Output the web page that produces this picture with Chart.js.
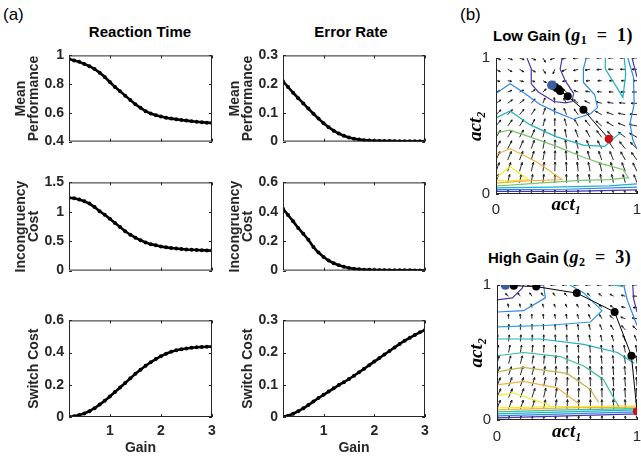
<!DOCTYPE html>
<html>
<head>
<meta charset="utf-8">
<script src="https://cdn.jsdelivr.net/npm/chart.js@4.4.0/dist/chart.umd.min.js"></script>
<style>
  body { margin: 0; width: 641px; height: 461px; overflow: hidden; background: #fff; position: relative;
         font-family: 'Liberation Sans', Arial, sans-serif; }
  canvas { position: absolute; }
  .t { position: absolute; transform: translate(-50%, -50%); white-space: nowrap; color: #000; }
  .tl { position: absolute; transform: translateY(-50%); white-space: nowrap; color: #000; }
  .m { font-family: 'Liberation Serif', 'DejaVu Serif', serif; font-weight: bold; font-size: 18px; letter-spacing: 0.5px; }
  .m i { font-style: italic; }
  .m sub { font-size: 12px; vertical-align: -3px; }
</style>
</head>
<body>
<div class="tl" style="left:3px;top:15px;font-size:17px">(a)</div>
<div class="tl" style="left:460px;top:15px;font-size:17px">(b)</div>
<div class="t" style="left:140px;top:31px;font-size:15px;font-weight:bold">Reaction Time</div>
<div class="t" style="left:351px;top:31px;font-size:15px;font-weight:bold">Error Rate</div>
<div class="tl" style="left:493px;top:36px;font-size:15px;font-weight:bold">Low Gain <span class="m">(<i>g</i><sub>1</sub>&ensp;=&ensp;1)</span></div>
<div class="tl" style="left:488px;top:258px;font-size:15px;font-weight:bold">High Gain <span class="m">(<i>g</i><sub>2</sub>&ensp;=&ensp;3)</span></div>

<script>
// ---- panel (a) data ----
const gain = [0.2, 0.3, 0.4, 0.5, 0.6, 0.7, 0.8, 0.9, 1.0, 1.1, 1.2, 1.3, 1.4, 1.5, 1.6,
              1.7, 1.8, 1.9, 2.0, 2.1, 2.2, 2.3, 2.4, 2.5, 2.6, 2.7, 2.8, 2.9, 3.0];
const rtMean = [0.975, 0.965, 0.955, 0.94, 0.925, 0.905, 0.88, 0.85, 0.815, 0.78, 0.75, 0.72, 0.69, 0.66, 0.635,
                0.612, 0.595, 0.583, 0.574, 0.566, 0.56, 0.555, 0.55, 0.546, 0.542, 0.538, 0.535, 0.532, 0.53];
const erMean = [0.21, 0.19, 0.17, 0.151, 0.133, 0.115, 0.097, 0.08, 0.064, 0.05, 0.038, 0.028, 0.02, 0.014, 0.01,
                0.007, 0.005, 0.004, 0.003, 0.0025, 0.002, 0.0018, 0.0015, 0.0013, 0.0012, 0.001, 0.001, 0.0009, 0.0008];
const rtIncong = [1.24, 1.23, 1.21, 1.18, 1.14, 1.08, 1.01, 0.95, 0.88, 0.81, 0.74, 0.67, 0.61, 0.56, 0.515,
                  0.48, 0.45, 0.43, 0.41, 0.395, 0.385, 0.375, 0.367, 0.36, 0.355, 0.35, 0.346, 0.343, 0.34];
const erIncong = [0.42, 0.378, 0.335, 0.29, 0.25, 0.21, 0.16, 0.123, 0.092, 0.068, 0.05, 0.036, 0.026, 0.018, 0.012,
                  0.009, 0.006, 0.005, 0.004, 0.003, 0.003, 0.0025, 0.002, 0.002, 0.0018, 0.0016, 0.0015, 0.0014, 0.0013];
const rtSwitch = [0.002, 0.005, 0.012, 0.022, 0.036, 0.055, 0.077, 0.101, 0.127, 0.155, 0.183, 0.211, 0.24, 0.268, 0.294,
                  0.318, 0.34, 0.36, 0.378, 0.393, 0.405, 0.414, 0.421, 0.426, 0.43, 0.433, 0.435, 0.436, 0.437];
const erSwitch = [0.001, 0.004, 0.01, 0.018, 0.027, 0.037, 0.048, 0.059, 0.069, 0.079, 0.089, 0.099, 0.108, 0.118, 0.128,
                  0.139, 0.15, 0.161, 0.172, 0.183, 0.194, 0.205, 0.216, 0.227, 0.237, 0.246, 0.255, 0.263, 0.27];

const gainTicks = [1, 2, 3];
const rtMeanTicks = [0.4, 0.6, 0.8, 1];
const erMeanTicks = [0, 0.1, 0.2, 0.3];
const rtIncongTicks = [0, 0.5, 1, 1.5];
const erIncongTicks = [0, 0.2, 0.4, 0.6];
const rtSwitchTicks = [0, 0.2, 0.4, 0.6];
const erSwitchTicks = [0, 0.1, 0.2, 0.3];

// ---- panel (b) data ----
const actTicks = [0, 1];
const quiverGrid = [0, 0.083, 0.167, 0.25, 0.333, 0.417, 0.5, 0.583, 0.667, 0.75, 0.833, 0.917, 1];
// arrow directions in degrees, rows from act2 = 1 (top) down to act2 = 0
const lowAngles = [
  [340, 340, 340, 335, 300, 200, 190, 185, 180, 180, 180, 180, 180],
  [330, 330, 328, 325, 300, 250, 205, 195, 190, 185, 180, 180, 180],
  [350, 350, 348, 345, 330, 270, 190, 185, 182, 180, 180, 180, 180],
  [20, 22, 25, 30, 45, 90, 140, 160, 170, 175, 178, 180, 180],
  [35, 38, 40, 50, 70, 95, 120, 140, 155, 165, 170, 175, 180],
  [45, 48, 52, 58, 72, 92, 110, 125, 140, 150, 160, 168, 175],
  [52, 55, 58, 64, 75, 90, 105, 118, 128, 138, 148, 158, 168],
  [58, 60, 63, 68, 77, 89, 100, 110, 118, 126, 134, 142, 150],
  [62, 64, 67, 71, 79, 88, 97, 104, 110, 116, 122, 128, 135],
  [66, 68, 70, 74, 80, 88, 94, 99, 104, 108, 112, 118, 125],
  [70, 72, 74, 77, 82, 88, 92, 96, 100, 103, 106, 110, 115],
  [75, 77, 79, 81, 84, 88, 91, 94, 97, 99, 102, 105, 110],
  [80, 82, 84, 85, 87, 89, 91, 93, 95, 97, 99, 101, 105]
];
const lowLengths = [0.035, 0.035, 0.028, 0.032, 0.042, 0.05, 0.055, 0.06, 0.065, 0.068, 0.068, 0.062, 0.03];
const highAngles = [
  [180, 180, 180, 180, 180, 180, 180, 180, 180, 180, 180, 180, 180],
  [150, 140, 130, 125, 125, 125, 128, 130, 135, 140, 150, 165, 180],
  [100, 100, 100, 102, 105, 108, 112, 118, 125, 135, 150, 170, 180],
  [92, 92, 92, 94, 96, 98, 100, 105, 110, 120, 140, 160, 170],
  [88, 88, 89, 90, 92, 94, 96, 99, 103, 110, 120, 130, 135],
  [84, 84, 85, 87, 89, 91, 93, 96, 99, 102, 106, 110, 112],
  [80, 80, 81, 84, 87, 89, 91, 93, 95, 97, 99, 100, 100],
  [76, 76, 77, 80, 84, 87, 89, 91, 93, 95, 96, 97, 97],
  [72, 72, 74, 77, 81, 85, 88, 90, 92, 93, 94, 95, 95],
  [70, 70, 71, 74, 78, 83, 87, 89, 91, 92, 93, 94, 94],
  [68, 68, 70, 73, 77, 82, 86, 89, 90, 91, 92, 93, 93],
  [70, 70, 72, 75, 79, 83, 87, 89, 90, 91, 92, 92, 92],
  [80, 80, 81, 83, 85, 87, 89, 90, 90, 91, 91, 91, 91]
];
const highLengths = [0.035, 0.03, 0.028, 0.035, 0.042, 0.048, 0.055, 0.06, 0.065, 0.068, 0.07, 0.068, 0.03];

// contour lines [act1, act2]
const lowPurple = [[0.22, 1], [0.25, 0.92], [0.25, 0.81], [0.3, 0.75], [0.41, 0.68], [0.49, 0.67], [0.54, 0.68], [0.55, 0.74], [0.49, 0.835], [0.455, 0.92], [0.47, 1]];
const lowPurpleRight = [[0.965, 1], [0.985, 0.92], [1, 0.86]];
const lowBlue = [[0, 0.74], [0.1, 0.81], [0.19, 0.75], [0.31, 0.66], [0.43, 0.6], [0.55, 0.55], [0.67, 0.59], [0.72, 0.635], [0.7, 0.73], [0.62, 0.82], [0.62, 0.92], [0.64, 1]];
const lowBlueRight = [[0.935, 1], [0.975, 0.86], [0.98, 0.66], [0.95, 0.52], [0.97, 0.4], [1, 0.33]];
const lowCyan = [[0, 0.56], [0.1, 0.61], [0.24, 0.51], [0.43, 0.42], [0.62, 0.36], [0.77, 0.35], [0.87, 0.44], [0.89, 0.45]];
const lowCyanRight = [[0.775, 1], [0.775, 0.92], [0.9, 0.71], [0.92, 0.88], [0.91, 1]];
const lowGreen = [[0, 0.45], [0.1, 0.47], [0.24, 0.42], [0.43, 0.35], [0.62, 0.27], [0.76, 0.22], [0.9, 0.18], [0.94, 0.12], [0.8, 0.105], [0.6, 0.1], [0.3, 0.08], [0.1, 0.065], [0, 0.06]];
const lowOrange = [[0, 0.29], [0.1, 0.334], [0.29, 0.235], [0.467, 0.106], [0.19, 0.094], [0, 0.08]];
const lowYellow = [[0, 0.12], [0.1, 0.2], [0.23, 0.106], [0.064, 0.094], [0, 0.1]];
const lowBand1 = [[0, 0.045], [0.4, 0.05], [0.8, 0.06], [1, 0.075]];
const lowBand2 = [[0, 0.032], [0.5, 0.035], [1, 0.05]];
const lowBand3 = [[0, 0.02], [0.5, 0.02], [1, 0.03]];

const highPurple = [[0, 0.89], [0.11, 0.905], [0.18, 0.976], [0.19, 1]];
const highPurpleRight = [[0.97, 1], [0.975, 0.9], [1, 0.8]];
const highBlue = [[0, 0.8], [0.19, 0.81], [0.345, 0.905], [0.333, 1]];
const highBlueRight = [[0.905, 1], [0.93, 0.89], [1, 0.7]];
const highLightBlue = [[0, 0.69], [0.35, 0.7], [0.667, 0.726], [0.75, 0.81], [0.62, 0.94], [0.52, 1]];
const highCyan = [[0, 0.6], [0.31, 0.6], [0.62, 0.56], [0.86, 0.5], [0.98, 0.42]];
const highCyanTop = [[0.82, 1], [0.9, 0.99]];
const highTeal = [[0, 0.476], [0.19, 0.5], [0.45, 0.47], [0.62, 0.4], [0.76, 0.3], [0.845, 0.143], [0.87, 0.1]];
const highOlive = [[0, 0.357], [0.19, 0.39], [0.5, 0.345], [0.667, 0.226], [0.726, 0.13]];
const highOrange = [[0, 0.26], [0.19, 0.286], [0.43, 0.238], [0.583, 0.12]];
const highYellow = [[0, 0.18], [0.12, 0.2], [0.38, 0.107]];
const highBandY = [[0, 0.09], [0.5, 0.1], [1, 0.105]];
const highBandO = [[0, 0.075], [0.5, 0.09], [1, 0.095]];
const highBandT = [[0, 0.06], [0.5, 0.075], [1, 0.085]];
const highBandC = [[0, 0.045], [0.5, 0.06], [1, 0.075]];
const highBandB = [[0, 0.03], [0.5, 0.045], [1, 0.06]];
const highBandP = [[0, 0.015], [0.5, 0.03], [1, 0.045]];

// trajectories, from the red start to the blue end
const lowTraj = [[0.8, 0.405], [0.62, 0.62], [0.509, 0.718], [0.455, 0.758], [0.443, 0.772], [0.42, 0.786], [0.396, 0.8]];
const highTraj = [[1, 0.064], [0.96, 0.476], [0.84, 0.8], [0.57, 0.94], [0.28, 0.988], [0.12, 0.995], [0.06, 1]];

const C = {
  purple: '#4637ad', blue: '#2f86e6', lblue: '#2a9fe0', cyan: '#1fb1c6', teal: '#38bd98',
  green: '#7cc46c', olive: '#bdb94c', orange: '#f2b044', yellow: '#f2ec1e'
};

const TICK_FONT = { family: "'Liberation Sans', Arial, sans-serif", size: 14, weight: 'bold' };
const LABEL_FONT = { family: "'Liberation Sans', Arial, sans-serif", size: 14, weight: 'bold', lineHeight: 0.93 };
const ACT_FONT = { family: "'Liberation Serif', 'DejaVu Serif', serif", size: 19, weight: 'bold', style: 'italic' };

// axes box + inward tick marks (MATLAB look)
const boxPlugin = {
  id: 'box',
  afterDatasetsDraw(chart, args, opts) {
    const { ctx, chartArea: a, scales: { x, y } } = chart;
    const t = 3;
    ctx.save();
    ctx.strokeStyle = opts.color || '#262626';
    ctx.lineWidth = 1;
    ctx.beginPath();
    ctx.moveTo(a.left + 0.5, a.top);
    ctx.lineTo(a.left + 0.5, a.bottom - 0.5);
    ctx.lineTo(a.right, a.bottom - 0.5);
    if (opts.full) {
      ctx.moveTo(a.left, a.top + 0.5);
      ctx.lineTo(a.right - 0.5, a.top + 0.5);
      ctx.lineTo(a.right - 0.5, a.bottom);
    }
    opts.xt.forEach(v => {
      const px = Math.round(x.getPixelForValue(v)) + 0.5;
      ctx.moveTo(px, a.bottom); ctx.lineTo(px, a.bottom - t);
      if (opts.full) { ctx.moveTo(px, a.top); ctx.lineTo(px, a.top + t); }
    });
    opts.yt.forEach(v => {
      const py = Math.round(y.getPixelForValue(v)) + 0.5;
      ctx.moveTo(a.left, py); ctx.lineTo(a.left + t, py);
      if (opts.full) { ctx.moveTo(a.right, py); ctx.lineTo(a.right - t, py); }
    });
    ctx.stroke();
    ctx.restore();
  }
};

// vector field arrows drawn through the chart scales
const quiverPlugin = {
  id: 'quiver',
  beforeDatasetsDraw(chart, args, opts) {
    if (!opts.angles) return;
    const { ctx, chartArea: a, scales: { x, y } } = chart;
    ctx.save();
    ctx.beginPath();
    ctx.rect(a.left, a.top, a.right - a.left, a.bottom - a.top);
    ctx.clip();
    ctx.strokeStyle = '#111';
    ctx.lineWidth = 0.9;
    opts.angles.forEach((row, r) => {
      const yv = opts.grid[opts.grid.length - 1 - r];
      row.forEach((deg, c) => {
        const xv = opts.grid[c];
        const len = opts.lengths[r];
        const rad = deg * Math.PI / 180;
        const x0 = x.getPixelForValue(xv), y0 = y.getPixelForValue(yv);
        const x1 = x.getPixelForValue(xv + len * Math.cos(rad));
        const y1 = y.getPixelForValue(yv + len * Math.sin(rad));
        const ang = Math.atan2(y1 - y0, x1 - x0);
        const hl = Math.max(2, Math.hypot(x1 - x0, y1 - y0) * 0.28);
        ctx.beginPath();
        ctx.moveTo(x0, y0); ctx.lineTo(x1, y1);
        ctx.moveTo(x1 - hl * Math.cos(ang - 0.4), y1 - hl * Math.sin(ang - 0.4));
        ctx.lineTo(x1, y1);
        ctx.lineTo(x1 - hl * Math.cos(ang + 0.4), y1 - hl * Math.sin(ang + 0.4));
        ctx.stroke();
      });
    });
    ctx.restore();
  }
};

function makeCanvas(plot, yW, padT, padR, xH) {
  const c = document.createElement('canvas');
  c.width = yW + plot.w + padR;
  c.height = padT + plot.h + xH;
  c.style.left = (plot.x - yW) + 'px';
  c.style.top = (plot.y - padT) + 'px';
  document.body.appendChild(c);
  return c;
}

// one small line panel of (a)
function perfChart(plot, values, yTicks, yLabel, showX) {
  const yW = 55, padT = 10, padR = 12, xH = showX ? 45 : 2;
  const canvas = makeCanvas(plot, yW, padT, padR, xH);
  const twoLines = Array.isArray(yLabel);
  return new Chart(canvas, {
    type: 'line',
    data: {
      datasets: [{
        data: gain.map((g, i) => ({ x: g, y: values[i] })),
        borderColor: '#000', backgroundColor: '#000', borderWidth: 2.6,
        pointRadius: 2, pointBorderWidth: 0, tension: 0
      }]
    },
    options: {
      responsive: false, animation: false, devicePixelRatio: 1,
      layout: { padding: { top: padT, right: padR, bottom: showX ? 0 : xH, left: 0 } },
      plugins: { legend: { display: false }, tooltip: { enabled: false },
                 box: { xt: gainTicks, yt: yTicks, full: true } },
      scales: {
        x: {
          type: 'linear', min: 0.2, max: 3, display: showX,
          afterBuildTicks: s => { s.ticks = gainTicks.map(v => ({ value: v })); },
          afterFit: s => { s.height = xH; },
          grid: { display: false, drawTicks: false }, border: { display: false },
          ticks: { padding: 6, color: '#262626', font: TICK_FONT, callback: v => String(v) },
          title: { display: true, text: 'Gain', color: '#262626', font: { ...LABEL_FONT, lineHeight: 1.2 },
                   padding: { top: 0, bottom: 5.6 } }
        },
        y: {
          min: yTicks[0], max: yTicks[yTicks.length - 1],
          afterBuildTicks: s => { s.ticks = yTicks.map(v => ({ value: v })); },
          afterFit: s => { s.width = yW; },
          grid: { display: false, drawTicks: false }, border: { display: false },
          ticks: { padding: 5, color: '#262626', font: TICK_FONT, callback: v => String(v) },
          title: { display: true, text: yLabel, color: '#262626', font: LABEL_FONT,
                   padding: { top: twoLines ? 0.3 : 13.3, bottom: 0 } }
        }
      }
    },
    plugins: [boxPlugin]
  });
}

const colLeft = { x: 69, w: 143 }, colRight = { x: 283, w: 142 };
const row1 = { y: 52, h: 101 }, row2 = { y: 179, h: 103 }, row3 = { y: 317, h: 100 };
const at = (c, r) => ({ x: c.x, w: c.w, y: r.y, h: r.h });

perfChart(at(colLeft, row1), rtMean, rtMeanTicks, ['Mean', 'Performance'], false);
perfChart(at(colRight, row1), erMean, erMeanTicks, ['Mean', 'Performance'], false);
perfChart(at(colLeft, row2), rtIncong, rtIncongTicks, ['Incongruency', 'Cost'], false);
perfChart(at(colRight, row2), erIncong, erIncongTicks, ['Incongruency', 'Cost'], false);
perfChart(at(colLeft, row3), rtSwitch, rtSwitchTicks, 'Switch Cost', true);
perfChart(at(colRight, row3), erSwitch, erSwitchTicks, 'Switch Cost', true);

// one phase-plane panel of (b)
function phaseChart(plot, contours, traj, angles, lengths, xTickPad, xTitlePad, yTitlePad) {
  const yW = 30, padT = 10, padR = 30, xH = 30;
  const canvas = makeCanvas(plot, yW, padT, padR, xH);
  const pts = arr => arr.map(([x, y]) => ({ x, y }));
  const datasets = contours.map(([arr, color]) => ({
    data: pts(arr), showLine: true, borderColor: color, borderWidth: 1.2,
    pointRadius: 0, tension: 0, order: 10
  }));
  datasets.push({ data: pts(traj), showLine: true, borderColor: '#000', borderWidth: 1,
                  pointRadius: 0, order: 3 });
  datasets.push({ data: pts(traj.slice(1, -1)), backgroundColor: '#000', borderWidth: 0,
                  pointRadius: 4, order: 2 });
  datasets.push({ data: pts(traj.slice(0, 1)), backgroundColor: '#cc1111', borderWidth: 0,
                  pointRadius: 4.2, order: 1 });
  datasets.push({ data: pts(traj.slice(-1)), backgroundColor: '#3a5d9f', borderWidth: 0,
                  pointRadius: 4.8, order: 1 });
  return new Chart(canvas, {
    type: 'scatter',
    data: { datasets },
    options: {
      responsive: false, animation: false, devicePixelRatio: 1,
      layout: { padding: { top: padT, right: padR, bottom: 0, left: 0 } },
      plugins: { legend: { display: false }, tooltip: { enabled: false },
                 box: { xt: actTicks, yt: actTicks, full: false },
                 quiver: { grid: quiverGrid, angles, lengths } },
      scales: {
        x: {
          type: 'linear', min: 0, max: 1,
          afterBuildTicks: s => { s.ticks = actTicks.map(v => ({ value: v })); },
          afterFit: s => { s.height = xH; },
          grid: { display: false, drawTicks: false }, border: { display: false },
          ticks: { padding: xTickPad, color: '#262626', font: { family: "'Liberation Sans', Arial, sans-serif", size: 15 },
                   callback: v => String(v) },
          title: { display: true, text: 'act₁', color: '#000', font: ACT_FONT,
                   padding: { top: 0, bottom: xTitlePad } }
        },
        y: {
          type: 'linear', min: 0, max: 1,
          afterBuildTicks: s => { s.ticks = actTicks.map(v => ({ value: v })); },
          afterFit: s => { s.width = yW; },
          grid: { display: false, drawTicks: false }, border: { display: false },
          ticks: { padding: 6, color: '#262626', font: { family: "'Liberation Sans', Arial, sans-serif", size: 15 },
                   callback: v => String(v) },
          title: { display: true, text: 'act₂', color: '#000', font: ACT_FONT,
                   padding: { top: yTitlePad, bottom: 0 } }
        }
      }
    },
    plugins: [quiverPlugin, boxPlugin]
  });
}

phaseChart({ x: 496, y: 53, w: 141, h: 141 }, [
  [lowPurple, C.purple], [lowPurpleRight, C.purple], [lowBlue, C.blue], [lowBlueRight, C.blue],
  [lowCyan, C.cyan], [lowCyanRight, C.cyan], [lowGreen, C.green], [lowOrange, C.orange],
  [lowYellow, C.yellow], [lowBand1, C.cyan], [lowBand2, C.blue], [lowBand3, C.purple]
], lowTraj, lowAngles, lowLengths, 7, 7.5, -1);

phaseChart({ x: 497, y: 280, w: 140, h: 140 }, [
  [highPurple, C.purple], [highPurpleRight, C.purple], [highBlue, C.blue], [highBlueRight, C.blue],
  [highLightBlue, C.lblue], [highCyan, C.cyan], [highCyanTop, C.cyan], [highTeal, C.teal],
  [highOlive, C.olive], [highOrange, C.orange], [highYellow, C.yellow],
  [highBandY, C.yellow], [highBandO, C.orange], [highBandT, C.teal], [highBandC, C.cyan],
  [highBandB, C.blue], [highBandP, C.purple]
], highTraj, highAngles, highLengths, 7.8, 6.5, -1.5);
</script>
</body>
</html>
